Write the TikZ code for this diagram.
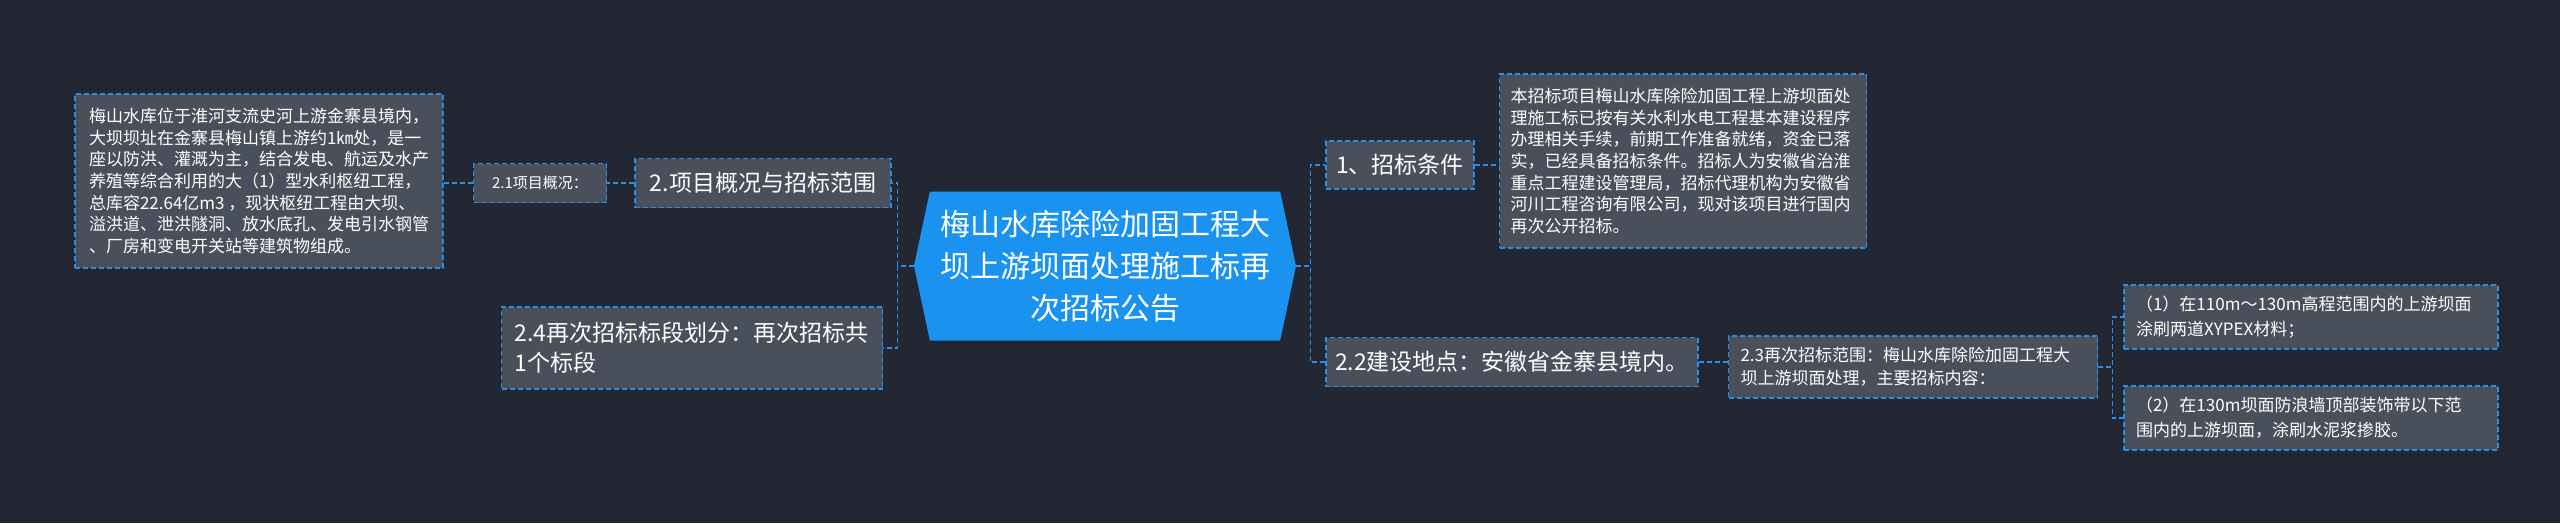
\documentclass[tikz,border=0pt]{standalone}
\usepackage{fontspec}
\setmainfont{Noto Sans CJK SC}
\usetikzlibrary{shapes.symbols}
\definecolor{bg}{HTML}{222733}
\definecolor{boxf}{HTML}{4A4F5C}
\definecolor{edge}{HTML}{2A8EE6}
\definecolor{cent}{HTML}{1A93F0}
\tikzset{
  bx/.style={draw=edge, line width=1.3pt, dash pattern=on 5pt off 3pt, fill=boxf, text=white, align=left, inner sep=0pt, anchor=center},
  ln/.style={draw=edge, line width=1.3pt, dash pattern=on 5pt off 3pt},
  sm/.style={font=\fontsize{17}{21.7}\selectfont},
  md/.style={font=\fontsize{23}{30}\selectfont},
}
\begin{document}
\begin{tikzpicture}[x=1pt,y=-1pt]
\fill[bg] (0,0) rectangle (2560,523);
\useasboundingbox (0,0) rectangle (2560,523);
\node[signal, signal to=west and east, signal pointer angle=156, fill=cent, text=white, minimum width=382pt, minimum height=149pt, inner sep=0pt, align=center, font=\fontsize{30}{42}\selectfont] (c) at (1105,266) {梅山水库除险加固工程大\\坝上游坝面处理施工标再\\次招标公告};
\node[bx, md, minimum width=256pt, minimum height=49pt, align=center] (p2) at (763,183) {2.项目概况与招标范围};
\node[bx, font=\fontsize{15}{18}\selectfont, minimum width=133pt, minimum height=39pt, align=center] (p21) at (540,183) {2.1项目概况：};
\node[bx, sm, minimum width=368pt, minimum height=174pt] (big) at (259,181) {\begin{minipage}{340pt}\fontsize{17}{21.7}\selectfont 梅山水库位于淮河支流史河上游金寨县境内，\\大坝坝址在金寨县梅山镇上游约1㎞处，是一\\座以防洪、灌溉为主，结合发电、航运及水产\\养殖等综合利用的大（1）型水利枢纽工程，\\总库容22.64亿m3 ，现状枢纽工程由大坝、\\溢洪道、泄洪隧洞、放水底孔、发电引水钢管\\、厂房和变电开关站等建筑物组成。\end{minipage}};
\node[bx, md, minimum width=381pt, minimum height=82pt] (p24) at (692,348) {\begin{minipage}{355pt}\fontsize{23}{30}\selectfont 2.4再次招标标段划分：再次招标共\\1个标段\end{minipage}};
\node[bx, md, minimum width=148pt, minimum height=48pt, align=center] (r1) at (1400,165) {1、招标条件};
\node[bx, minimum width=367pt, minimum height=174pt] (rt) at (1683,161) {\begin{minipage}{345pt}\fontsize{17}{21.7}\selectfont 本招标项目梅山水库除险加固工程上游坝面处\\理施工标已按有关水利水电工程基本建设程序\\办理相关手续，前期工作准备就绪，资金已落\\实，已经具备招标条件。招标人为安徽省治淮\\重点工程建设管理局，招标代理机构为安徽省\\河川工程咨询有限公司，现对该项目进行国内\\再次公开招标。\end{minipage}};
\node[bx, md, minimum width=372pt, minimum height=49pt, align=center] (r2) at (1512,362) {2.2建设地点：安徽省金寨县境内。};
\node[bx, minimum width=369pt, minimum height=62pt] (r23) at (1913,367) {\begin{minipage}{345pt}\fontsize{17}{23}\selectfont 2.3再次招标范围：梅山水库除险加固工程大\\坝上游坝面处理，主要招标内容：\end{minipage}};
\node[bx, minimum width=374pt, minimum height=64pt] (s1) at (2311,317) {\begin{minipage}{350pt}\fontsize{17}{25}\selectfont （1）在110m～130m高程范围内的上游坝面\\涂刷两道XYPEX材料；\end{minipage}};
\node[bx, minimum width=374pt, minimum height=64pt] (s2) at (2311,418) {\begin{minipage}{350pt}\fontsize{17}{25}\selectfont （2）在130m坝面防浪墙顶部装饰带以下范\\围内的上游坝面，涂刷水泥浆掺胶。\end{minipage}};
\draw[ln] (c.west) -- ++(-16,0) |- (p2.east);
\draw[ln] (c.west) -- ++(-16,0) |- (p24.east);
\draw[ln] (p2.west) -- (p21.east);
\draw[ln] (p21.west) -- (big.east |- p21.west);
\draw[ln] (c.east) -- ++(14,0) |- (r1.west);
\draw[ln] (c.east) -- ++(14,0) |- (r2.west);
\draw[ln] (r1.east) -- (rt.west |- r1.east);
\draw[ln] (r2.east) -- (r23.west |- r2.east);
\draw[ln] (r23.east) -- ++(14,0) |- (s1.west);
\draw[ln] (r23.east) -- ++(14,0) |- (s2.west);
\end{tikzpicture}
\end{document}
